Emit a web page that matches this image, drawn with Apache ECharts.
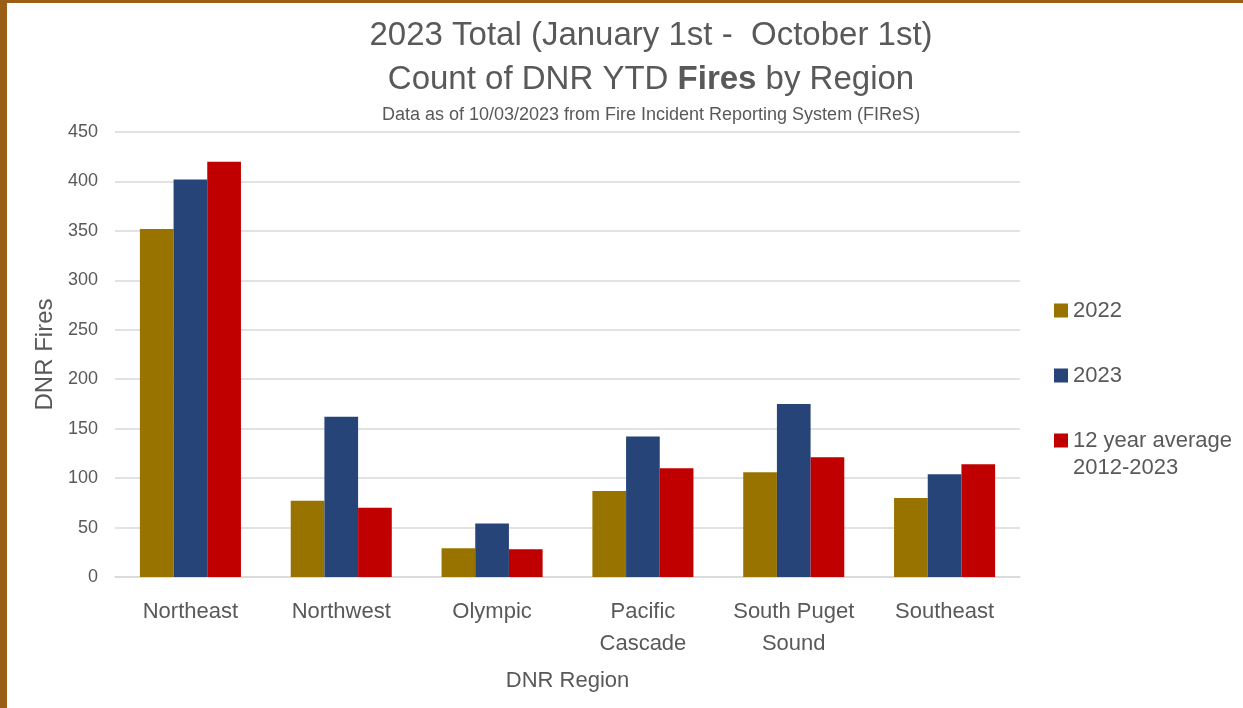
<!DOCTYPE html>
<html>
<head>
<meta charset="utf-8">
<script src="https://cdn.jsdelivr.net/npm/echarts@6/dist/echarts.min.js"></script>
<style>
  html, body { margin: 0; padding: 0; background: #ffffff; }
  #chart { position: absolute; left: 0; top: 0; width: 1243px; height: 708px; }
  .bt { position: absolute; left: 0; top: 0; width: 1243px; height: 3px; background: #9b5e16; }
  .bl { position: absolute; left: 0; top: 0; width: 7px; height: 708px; background: #9b5e16; }
</style>
</head>
<body>
<div id="chart"></div>
<div class="bt"></div>
<div class="bl"></div>
<script>
// ---- data ----
const regions = ['Northeast', 'Northwest', 'Olympic', 'Pacific\nCascade', 'South Puget\nSound', 'Southeast'];
const seriesNames = ['2022', '2023', '12 year average\n2012-2023'];
const fires2022 = [352, 77, 29, 87, 106, 80];
const fires2023 = [402, 162, 54, 142, 175, 104];
const avg12yr = [420, 70, 28, 110, 121, 114];
const yTicks = [0, 50, 100, 150, 200, 250, 300, 350, 400, 450];

const colors = ['#997300', '#264478', '#c00000'];
const FONT = "'Liberation Sans', Arial, sans-serif";
const TXT = '#595959';

const chart = echarts.init(document.getElementById('chart'), null, { renderer: 'canvas' });

function legendAt(name, top, fmt) {
  const l = {
    data: [name],
    orient: 'vertical',
    left: 1054,
    top: top,
    padding: 0,
    itemWidth: 14,
    itemHeight: 14,
    itemGap: 0,
    icon: 'rect',
    selectedMode: false,
    textStyle: { color: TXT, fontSize: 22, fontFamily: FONT, lineHeight: 27 }
  };
  if (fmt) l.formatter = fmt;
  return l;
}

const option = {
  backgroundColor: '#ffffff',
  animation: false,
  textStyle: { fontFamily: FONT },
  title: [
    {
      text: '2023 Total (January 1st -  October 1st)\nCount of DNR YTD {b|Fires} by Region',
      left: 651,
      top: 14,
      textAlign: 'center',
      padding: 0,
      textStyle: {
        color: TXT, fontSize: 33, fontWeight: 'normal', fontFamily: FONT, lineHeight: 44,
        rich: { b: { color: TXT, fontSize: 33, fontWeight: 'bold', fontFamily: FONT, lineHeight: 44 } }
      }
    },
    {
      text: 'Data as of 10/03/2023 from Fire Incident Reporting System (FIReS)',
      left: 651,
      top: 104,
      textAlign: 'center',
      padding: 0,
      textStyle: { color: TXT, fontSize: 18, fontWeight: 'normal', fontFamily: FONT, lineHeight: 22 }
    }
  ],
  legend: [
    legendAt(seriesNames[0], 297),
    legendAt(seriesNames[1], 362),
    // leading empty line keeps the icon beside the first text line
    legendAt(seriesNames[2], 400, function (n) { return '\n' + n; })
  ],
  grid: { left: 115, right: 223, top: 132, bottom: 131, containLabel: false },
  xAxis: {
    type: 'category',
    data: regions,
    name: 'DNR Region',
    nameLocation: 'middle',
    nameGap: 93,
    nameTextStyle: { color: TXT, fontSize: 22, fontFamily: FONT },
    axisLine: { show: true, lineStyle: { color: '#d9d9d9', width: 1.5 } },
    axisTick: { show: false },
    axisLabel: { color: TXT, fontSize: 22, fontFamily: FONT, lineHeight: 32, margin: 19, interval: 0 },
    splitLine: { show: false }
  },
  yAxis: {
    type: 'value',
    min: yTicks[0],
    max: yTicks[yTicks.length - 1],
    interval: yTicks[1] - yTicks[0],
    name: 'DNR Fires',
    nameLocation: 'middle',
    nameGap: 55,
    nameTextStyle: { color: TXT, fontSize: 24, fontFamily: FONT },
    axisLine: { show: false },
    axisTick: { show: false },
    axisLabel: { color: TXT, fontSize: 18, fontFamily: FONT, margin: 17 },
    splitLine: { show: true, lineStyle: { color: '#d9d9d9', width: 1.5 } }
  },
  series: [
    { name: seriesNames[0], type: 'bar', data: fires2022, itemStyle: { color: colors[0] }, barGap: '0%', barCategoryGap: '33%' },
    { name: seriesNames[1], type: 'bar', data: fires2023, itemStyle: { color: colors[1] }, barGap: '0%', barCategoryGap: '33%' },
    { name: seriesNames[2], type: 'bar', data: avg12yr, itemStyle: { color: colors[2] }, barGap: '0%', barCategoryGap: '33%' }
  ]
};

chart.setOption(option);
</script>
</body>
</html>
